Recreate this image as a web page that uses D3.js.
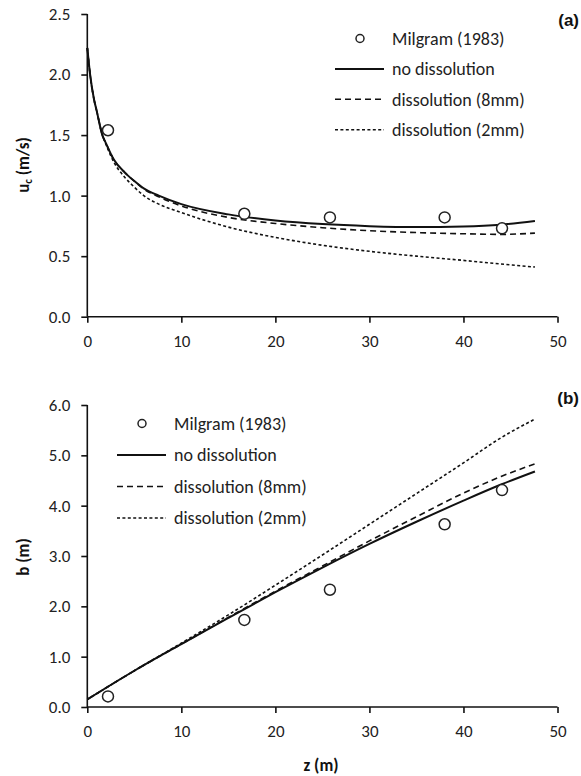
<!DOCTYPE html>
<html>
<head>
<meta charset="utf-8">
<script src="https://cdn.jsdelivr.net/npm/d3@7"></script>
<style>
  body { margin: 0; background: #fff; }
  svg { display: block; font-family: Carlito, Calibri, Lato, sans-serif; }
</style>
</head>
<body>
<svg id="chart" width="581" height="776"></svg>
<script>
// measured points (Milgram 1983)
const obsZ = [2.2, 16.7, 25.8, 38.0, 44.1];
const obsU = [1.54, 0.85, 0.82, 0.82, 0.73];
const obsB = [0.21, 1.73, 2.33, 3.63, 4.31];

// model curves, panel (a)
const zA = [0, 0.3, 0.7, 1, 1.6, 2, 2.8, 4, 5, 6, 7.6, 10, 15, 20, 25, 30, 35, 40, 44, 47.6];
const uNoDiss = [2.22, 2.0, 1.8, 1.7, 1.5, 1.43, 1.3, 1.19, 1.12, 1.06, 1.0, 0.93, 0.845, 0.795, 0.765, 0.748, 0.74, 0.745, 0.76, 0.79];
const uDiss8 = [2.22, 2.0, 1.8, 1.7, 1.5, 1.43, 1.3, 1.19, 1.12, 1.055, 0.99, 0.915, 0.82, 0.77, 0.735, 0.71, 0.695, 0.685, 0.68, 0.69];
const uDiss2 = [2.22, 2.0, 1.8, 1.7, 1.5, 1.42, 1.28, 1.15, 1.07, 1.0, 0.93, 0.86, 0.74, 0.655, 0.59, 0.54, 0.5, 0.465, 0.435, 0.41];

// model curves, panel (b)
const zB = [0, 5, 10, 15, 20, 25, 30, 35, 40, 44, 47.6];
const bNoDiss = [0.15, 0.72, 1.25, 1.77, 2.28, 2.77, 3.24, 3.68, 4.1, 4.42, 4.68];
const bDiss8 = [0.15, 0.72, 1.25, 1.78, 2.3, 2.8, 3.3, 3.78, 4.25, 4.58, 4.83];
const bDiss2 = [0.15, 0.72, 1.27, 1.83, 2.42, 3.02, 3.63, 4.24, 4.85, 5.35, 5.72];

const xTicks = [0, 10, 20, 30, 40, 50];
const uTicks = [0, 0.5, 1.0, 1.5, 2.0, 2.5];
const bTicks = [0, 1, 2, 3, 4, 5, 6];
const legendLabels = ["Milgram (1983)", "no dissolution", "dissolution (8mm)", "dissolution (2mm)"];

const lineStyles = [
    { width: 2, dash: null },
    { width: 1.6, dash: "6,4" },
    { width: 1.6, dash: "3,2.4" }
];

const fontFam = "Carlito, Calibri, Lato, sans-serif";
const svg = d3.select("#chart");

const xScale = d3.scaleLinear().domain([0, 50]).range([87.3, 557.5]);

function drawPanel(opts) {
    const g = svg.append("g");
    const y = d3.scaleLinear().domain(opts.yDomain).range(opts.yRange);

    // axes
    const xa = g.append("g")
        .attr("transform", `translate(0,${opts.yRange[0]})`)
        .call(d3.axisBottom(xScale).tickValues(xTicks).tickSize(6).tickPadding(12).tickFormat(d3.format("d")));
    xa.select(".domain").attr("d", `M${xScale(0)},0H${xScale(50)}`);

    const ya = g.append("g")
        .attr("transform", `translate(${xScale(0)},0)`)
        .call(d3.axisLeft(y).tickValues(opts.yTicks).tickSize(6).tickPadding(11).tickFormat(d3.format(".1f")));
    ya.select(".domain").attr("d", `M0,${opts.yRange[0]}V${opts.yRange[1]}`);

    g.selectAll(".tick text").attr("font-size", 17).attr("fill", "#222").style("font-family", fontFam);
    g.selectAll(".domain, .tick line").attr("stroke", "#111").attr("stroke-width", 1.6);

    // curves
    const line = d3.line().x(d => xScale(d[0])).y(d => y(d[1])).curve(d3.curveMonotoneX);
    opts.series.forEach((vals, i) => {
        const st = lineStyles[i];
        g.append("path")
            .datum(opts.z.map((z, k) => [z, vals[k]]))
            .attr("fill", "none")
            .attr("stroke", "#111")
            .attr("stroke-width", st.width)
            .attr("stroke-dasharray", st.dash)
            .attr("d", line);
    });

    // observed points
    g.selectAll("circle.obs")
        .data(obsZ.map((z, k) => [z, opts.obs[k]]))
        .join("circle")
        .attr("class", "obs")
        .attr("cx", d => xScale(d[0]))
        .attr("cy", d => y(d[1]))
        .attr("r", 5.5)
        .attr("fill", "#fff")
        .attr("stroke", "#222")
        .attr("stroke-width", 1.5);

    // legend
    const lg = g.append("g").attr("transform", `translate(${opts.legend[0]},${opts.legend[1]})`);
    legendLabels.forEach((lab, i) => {
        const yy = i * opts.legendStep;
        if (i === 0) {
            lg.append("circle").attr("cx", 25).attr("cy", yy).attr("r", 4)
                .attr("fill", "#fff").attr("stroke", "#222").attr("stroke-width", 1.5);
        } else {
            const st = lineStyles[i - 1];
            lg.append("line").attr("x1", 0).attr("x2", 49).attr("y1", yy).attr("y2", yy)
                .attr("stroke", "#111").attr("stroke-width", st.width).attr("stroke-dasharray", st.dash);
        }
        lg.append("text").attr("x", 57).attr("y", yy).attr("dy", "0.35em")
            .attr("font-size", 18).attr("fill", "#222").text(lab);
    });

    // panel tag
    svg.append("text").attr("x", 579).attr("y", opts.tagY).attr("text-anchor", "end")
        .attr("font-size", 17).attr("font-weight", "bold").attr("fill", "#111")
        .style("font-family", "'Liberation Sans', Arial, sans-serif").text(opts.tag);

    return g;
}

drawPanel({
    yDomain: [0, 2.5], yRange: [316.7, 14], yTicks: uTicks,
    z: zA, series: [uNoDiss, uDiss8, uDiss2], obs: obsU,
    legend: [335, 38.5], legendStep: 30.4, tag: "(a)", tagY: 26
});

drawPanel({
    yDomain: [0, 6], yRange: [707, 405], yTicks: bTicks,
    z: zB, series: [bNoDiss, bDiss8, bDiss2], obs: obsB,
    legend: [117, 423.5], legendStep: 31.5, tag: "(b)", tagY: 404
});

// axis titles
const ut = svg.append("text")
    .attr("transform", "translate(29,165) rotate(-90)")
    .attr("text-anchor", "middle").attr("font-size", 17).attr("font-weight", "bold").attr("fill", "#111");
ut.append("tspan").text("u");
ut.append("tspan").attr("font-size", 11).attr("dy", 3).text("c");
ut.append("tspan").attr("dy", -3).text(" (m/s)");

svg.append("text")
    .attr("transform", "translate(29,557) rotate(-90)")
    .attr("text-anchor", "middle").attr("font-size", 17).attr("font-weight", "bold").attr("fill", "#111")
    .text("b (m)");

svg.append("text")
    .attr("x", 321).attr("y", 771)
    .attr("text-anchor", "middle").attr("font-size", 17).attr("font-weight", "bold").attr("fill", "#111")
    .text("z (m)");
</script>
</body>
</html>
